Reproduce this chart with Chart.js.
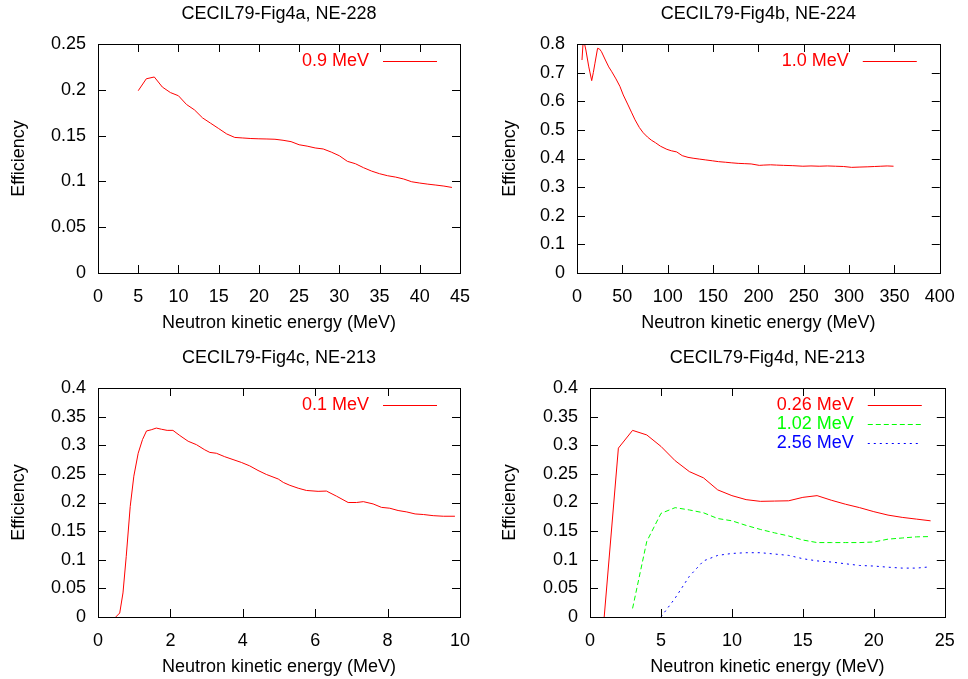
<!DOCTYPE html>
<html>
<head>
<meta charset="utf-8">
<script src="https://cdn.jsdelivr.net/npm/chart.js@4/dist/chart.umd.min.js"></script>
<style>
  html, body { margin: 0; padding: 0; background: #fff; }
  .panel { position: absolute; }
</style>
</head>
<body>
<div class="panel" style="left:0;top:0"><canvas id="figA"></canvas></div>
<div class="panel" style="left:484px;top:0"><canvas id="figB"></canvas></div>
<div class="panel" style="left:0;top:340px"><canvas id="figC"></canvas></div>
<div class="panel" style="left:484px;top:340px"><canvas id="figD"></canvas></div>
<script>
// ── data ──
const energyA = [5, 6, 7, 8, 9, 10, 11, 12, 13, 14, 15, 16, 17, 18, 19, 20, 21, 22, 23, 24, 25, 26, 27, 28, 29, 30, 31, 32, 33, 34, 35, 36, 37, 38, 39, 40, 41, 42, 43, 44];
const effA = [0.199, 0.212, 0.214, 0.203, 0.197, 0.1935, 0.184, 0.178, 0.1693, 0.1635, 0.1577, 0.1518, 0.148, 0.1474, 0.1468, 0.1465, 0.1463, 0.146, 0.1449, 0.1434, 0.140, 0.1385, 0.1365, 0.1354, 0.132, 0.128, 0.1219, 0.1193, 0.115, 0.1113, 0.1084, 0.1062, 0.1047, 0.1026, 0.0996, 0.0982, 0.097, 0.096, 0.0949, 0.0934];

const energyB = [5.5, 7, 9.8, 13, 16.2, 18, 19.8, 22.7, 25, 27, 31.3, 35, 38.4, 43, 47.3, 51, 56.3, 60, 64, 68.8, 73, 77.7, 82, 86.6, 92, 99.1, 104, 109.9, 116, 122.4, 128, 134.8, 142, 149.2, 156, 163.5, 170, 177.7, 185, 192, 201, 206, 213.5, 220, 227.8, 238, 249, 258, 267, 276, 285, 294, 302.8, 311, 320.7, 328, 335, 342, 349];
const effB = [0.744, 0.82, 0.779, 0.72, 0.672, 0.70, 0.733, 0.785, 0.782, 0.773, 0.744, 0.72, 0.703, 0.678, 0.652, 0.622, 0.587, 0.562, 0.535, 0.508, 0.49, 0.475, 0.464, 0.455, 0.443, 0.432, 0.427, 0.423, 0.41, 0.404, 0.401, 0.398, 0.395, 0.392, 0.389, 0.387, 0.385, 0.383, 0.382, 0.381, 0.376, 0.377, 0.378, 0.377, 0.376, 0.375, 0.373, 0.374, 0.373, 0.374, 0.373, 0.372, 0.369, 0.370, 0.371, 0.372, 0.373, 0.374, 0.373];

const energyC = [0.49, 0.6, 0.69, 0.78, 0.89, 0.99, 1.11, 1.23, 1.34, 1.47, 1.61, 1.75, 1.91, 2.07, 2.26, 2.49, 2.72, 2.95, 3.09, 3.27, 3.5, 3.73, 3.96, 4.19, 4.42, 4.65, 4.98, 5.12, 5.3, 5.53, 5.76, 6.08, 6.31, 6.59, 6.91, 7.14, 7.33, 7.6, 7.83, 8.06, 8.29, 8.53, 8.76, 8.99, 9.26, 9.54, 9.86];
const effC = [0, 0.007, 0.042, 0.106, 0.193, 0.246, 0.286, 0.31, 0.325, 0.327, 0.33, 0.328, 0.326, 0.326, 0.317, 0.307, 0.301, 0.292, 0.2875, 0.286, 0.28, 0.275, 0.27, 0.264, 0.256, 0.249, 0.241, 0.235, 0.23, 0.225, 0.221, 0.2195, 0.22, 0.211, 0.2, 0.2, 0.2015, 0.1975, 0.1915, 0.19, 0.186, 0.1835, 0.18, 0.179, 0.177, 0.176, 0.176];

const energyD026 = [1, 2, 3, 4, 5, 6, 7, 8, 9, 10, 11, 12, 13, 14, 15, 16, 17, 18, 19, 20, 21, 22, 23, 24];
const effD026 = [0, 0.295, 0.326, 0.318, 0.298, 0.273, 0.254, 0.243, 0.222, 0.212, 0.205, 0.202, 0.2025, 0.203, 0.209, 0.212, 0.204, 0.197, 0.191, 0.184, 0.178, 0.174, 0.171, 0.168];
const energyD102 = [3, 4, 5, 6, 7, 8, 9, 10, 11, 12, 13, 14, 15, 16, 17, 18, 19, 20, 21, 22, 23, 24];
const effD102 = [0.015, 0.132, 0.181, 0.191, 0.187, 0.182, 0.172, 0.168, 0.160, 0.153, 0.147, 0.1415, 0.1345, 0.130, 0.130, 0.130, 0.130, 0.131, 0.136, 0.138, 0.140, 0.1405];
const energyD256 = [5, 6, 7, 8, 9, 10, 11, 12, 13, 14, 15, 16, 17, 18, 19, 20, 21, 22, 23, 24];
const effD256 = [0, 0.033, 0.071, 0.098, 0.1076, 0.111, 0.1123, 0.1123, 0.110, 0.1076, 0.1018, 0.098, 0.096, 0.093, 0.090, 0.089, 0.087, 0.0854, 0.0854, 0.0877];

const titles = ['CECIL79-Fig4a, NE-228', 'CECIL79-Fig4b, NE-224', 'CECIL79-Fig4c, NE-213', 'CECIL79-Fig4d, NE-213'];
const xLabel = 'Neutron kinetic energy (MeV)';
const yLabel = 'Efficiency';

const FONT = "'Liberation Sans', Arial, sans-serif";
const FSIZE = 18;
const LH = FSIZE * 1.2;

// gnuplot look: full border, inward ticks on all four sides, key top right
const gnuplotFrame = {
  id: 'gnuplotFrame',
  afterDraw(chart) {
    const { ctx, chartArea: a, scales: { x, y } } = chart;
    const tick = 8;
    ctx.save();
    ctx.strokeStyle = '#000';
    ctx.lineWidth = 1;
    ctx.setLineDash([]);
    ctx.beginPath();
    x.ticks.forEach((t) => {
      const px = Math.round(x.getPixelForValue(t.value)) + 0.5;
      ctx.moveTo(px, a.bottom); ctx.lineTo(px, a.bottom - tick);
      ctx.moveTo(px, a.top); ctx.lineTo(px, a.top + tick);
    });
    y.ticks.forEach((t) => {
      const py = Math.round(y.getPixelForValue(t.value)) + 0.5;
      ctx.moveTo(a.left, py); ctx.lineTo(a.left + tick, py);
      ctx.moveTo(a.right, py); ctx.lineTo(a.right - tick, py);
    });
    ctx.stroke();
    ctx.strokeRect(Math.round(a.left) + 0.5, Math.round(a.top) + 0.5,
      Math.round(a.right - a.left), Math.round(a.bottom - a.top));

    // key
    ctx.font = `${FSIZE}px ${FONT}`;
    ctx.textAlign = 'right';
    ctx.textBaseline = 'middle';
    chart.data.datasets.forEach((ds, i) => {
      const ky = Math.round(a.top + 17 + 19 * i) + 0.5;
      ctx.strokeStyle = ds.borderColor;
      ctx.setLineDash(ds.borderDash || []);
      ctx.beginPath();
      ctx.moveTo(a.right - 77, ky);
      ctx.lineTo(a.right - 23, ky);
      ctx.stroke();
      ctx.setLineDash([]);
      ctx.fillStyle = ds.borderColor;
      ctx.fillText(ds.label, a.right - 91, ky);
    });
    ctx.restore();
  },
};

const fmt = (v) => String(+Number(v).toFixed(3));

function buildPanel(id, spec) {
  const canvas = document.getElementById(id);
  const { w, h, L, T, R, B, yTitleX } = spec.box;
  canvas.width = w;
  canvas.height = h;
  const font = { family: FONT, size: FSIZE, weight: 'normal' };

  return new Chart(canvas.getContext('2d'), {
    type: 'scatter',
    data: {
      datasets: spec.series.map((s) => ({
        label: s.label,
        data: s.x.map((v, i) => ({ x: v, y: s.y[i] })),
        showLine: true,
        borderColor: s.color,
        borderWidth: 1,
        borderDash: s.dash || [],
        pointRadius: 0,
        pointHoverRadius: 0,
        tension: 0,
        fill: false,
      })),
    },
    options: {
      responsive: false,
      animation: false,
      events: [],
      layout: { padding: { left: 0, right: w - R, top: 0, bottom: 0 } },
      plugins: {
        legend: { display: false },
        tooltip: { enabled: false },
        title: {
          display: true,
          text: spec.title,
          fullSize: false,
          color: '#000',
          font,
          padding: { top: T - 30 - LH / 2, bottom: 30 - LH / 2 },
        },
      },
      scales: {
        x: {
          type: 'linear',
          min: spec.xMin, max: spec.xMax,
          grid: { display: false, drawTicks: false },
          border: { display: false },
          ticks: { stepSize: spec.xStep, autoSkip: false, maxRotation: 0, padding: 24 - LH / 2, color: '#000', font, callback: fmt },
          title: { display: true, text: xLabel, color: '#000', font, padding: { top: 0, bottom: h - (B + 50) - LH / 2 } },
          afterFit: (s) => { s.height = h - B; },
        },
        y: {
          type: 'linear',
          min: spec.yMin, max: spec.yMax,
          grid: { display: false, drawTicks: false },
          border: { display: false },
          ticks: { stepSize: spec.yStep, autoSkip: false, padding: 12, color: '#000', font, callback: fmt },
          title: { display: true, text: yLabel, color: '#000', font, padding: { top: yTitleX - LH / 2, bottom: 0 } },
          afterFit: (s) => { s.width = L; },
        },
      },
    },
    plugins: [gnuplotFrame],
  });
}

buildPanel('figA', {
  title: titles[0],
  box: { w: 484, h: 340, L: 98, T: 44, R: 460, B: 273, yTitleX: 19 },
  xMin: 0, xMax: 45, xStep: 5, yMin: 0, yMax: 0.25, yStep: 0.05,
  series: [{ label: '0.9 MeV', x: energyA, y: effA, color: '#ff0000' }],
});

buildPanel('figB', {
  title: titles[1],
  box: { w: 484, h: 340, L: 93, T: 44, R: 467, B: 273, yTitleX: 26 },
  xMin: 0, xMax: 400, xStep: 50, yMin: 0, yMax: 0.8, yStep: 0.1,
  series: [{ label: '1.0 MeV', x: energyB, y: effB, color: '#ff0000' }],
});

buildPanel('figC', {
  title: titles[2],
  box: { w: 484, h: 339, L: 98, T: 48, R: 460, B: 277, yTitleX: 19 },
  xMin: 0, xMax: 10, xStep: 2, yMin: 0, yMax: 0.4, yStep: 0.05,
  series: [{ label: '0.1 MeV', x: energyC, y: effC, color: '#ff0000' }],
});

buildPanel('figD', {
  title: titles[3],
  box: { w: 484, h: 339, L: 106, T: 48, R: 467, B: 277, yTitleX: 26 },
  xMin: 0, xMax: 25, xStep: 5, yMin: 0, yMax: 0.4, yStep: 0.05,
  series: [
    { label: '0.26 MeV', x: energyD026, y: effD026, color: '#ff0000' },
    { label: '1.02 MeV', x: energyD102, y: effD102, color: '#00ff00', dash: [5, 3] },
    { label: '2.56 MeV', x: energyD256, y: effD256, color: '#0000ff', dash: [2, 4] },
  ],
});
</script>
</body>
</html>
